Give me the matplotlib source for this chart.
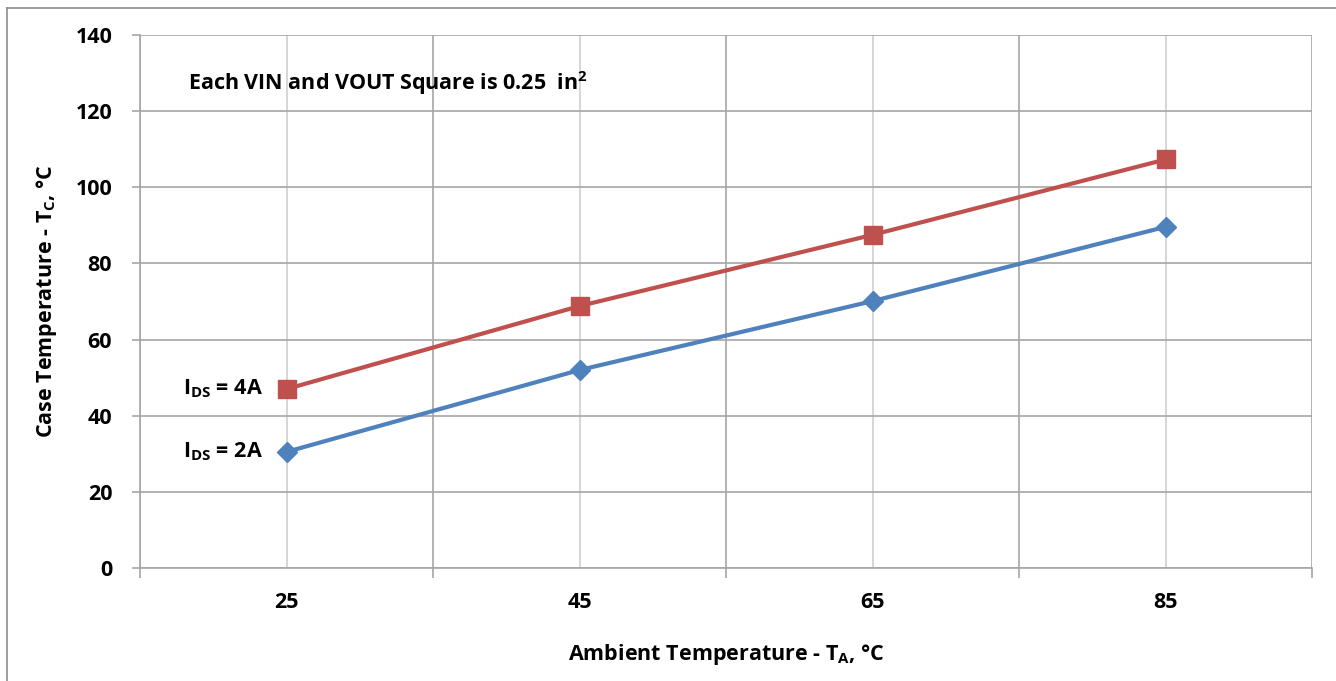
import numpy as np
import matplotlib
matplotlib.use("Agg")
import matplotlib.pyplot as plt
from matplotlib.lines import Line2D

plt.rcParams['font.family'] = ['Open Sans', 'DejaVu Sans']
plt.rcParams['font.weight'] = 'bold'
plt.rcParams['mathtext.default'] = 'regular'

# data
ambient = ["25", "45", "65", "85"]
case_4a = [47.0, 68.8, 87.5, 107.3]
case_2a = [30.5, 52.0, 70.1, 89.6]

red = "#C0504D"
blue = "#4F81BD"
grid_dark = "#A6A6A6"
grid_light = "#D0D0D0"

fig = plt.figure(figsize=(13.36, 6.81), dpi=100)
ax = fig.add_axes([140 / 1336, 113 / 681, 1172 / 1336, 533 / 681])

x = np.arange(len(ambient))
ax.plot(x, case_2a, color=blue, lw=3, marker='D', ms=10, zorder=3)
ax.plot(x, case_4a, color=red, lw=3, marker='s', ms=12.5, zorder=3)

ax.set_xlim(-0.5, len(ambient) - 0.5)
ax.set_ylim(0, 140)
ax.set_yticks(np.arange(0, 141, 20))
ax.set_xticks(x)
ax.set_xticklabels(ambient)
ax.set_xticks(np.arange(-0.5, len(ambient), 1.0), minor=True)

ax.grid(axis='y', color=grid_dark, lw=1.2)
ax.grid(axis='x', which='major', color=grid_light, lw=1.2)
ax.grid(axis='x', which='minor', color=grid_dark, lw=1.2)
ax.set_axisbelow(True)

for s in ['top', 'right']:
    ax.spines[s].set_visible(False)
for s in ['left', 'bottom']:
    ax.spines[s].set_color(grid_dark)
    ax.spines[s].set_linewidth(1.2)

fs = 15.5
ax.tick_params(axis='y', length=6, color=grid_dark, width=1.2, labelsize=fs, pad=14)
ax.tick_params(axis='x', which='major', length=0, labelsize=fs, pad=17)
ax.tick_params(axis='x', which='minor', length=7, color=grid_dark, width=1.2)

ax.set_xlabel("Ambient Temperature - T$_{A}$, °C", fontsize=fs, fontweight='bold', labelpad=21)
ax.set_ylabel("Case Temperature - T$_{C}$, °C", fontsize=fs, fontweight='bold', labelpad=12)

fig.text(188 / 1336, 1 - 83 / 681, "Each VIN and VOUT Square is 0.25  in$^{2}$",
         fontsize=fs, fontweight='bold', ha='left', va='center')
ax.text(-0.08, case_4a[0], "I$_{DS}$ = 4A", fontsize=fs, fontweight='bold', ha='right', va='center')
ax.text(-0.08, case_2a[0], "I$_{DS}$ = 2A", fontsize=fs, fontweight='bold', ha='right', va='center')

# outer chart border
fig.add_artist(Line2D([7 / 1336, 7 / 1336], [0, 1 - 8 / 681], transform=fig.transFigure, color="#8C8C8C", lw=1.2))
fig.add_artist(Line2D([7 / 1336, 1], [1 - 8 / 681, 1 - 8 / 681], transform=fig.transFigure, color="#8C8C8C", lw=1.2))

fig.savefig("out.png", dpi=100)
